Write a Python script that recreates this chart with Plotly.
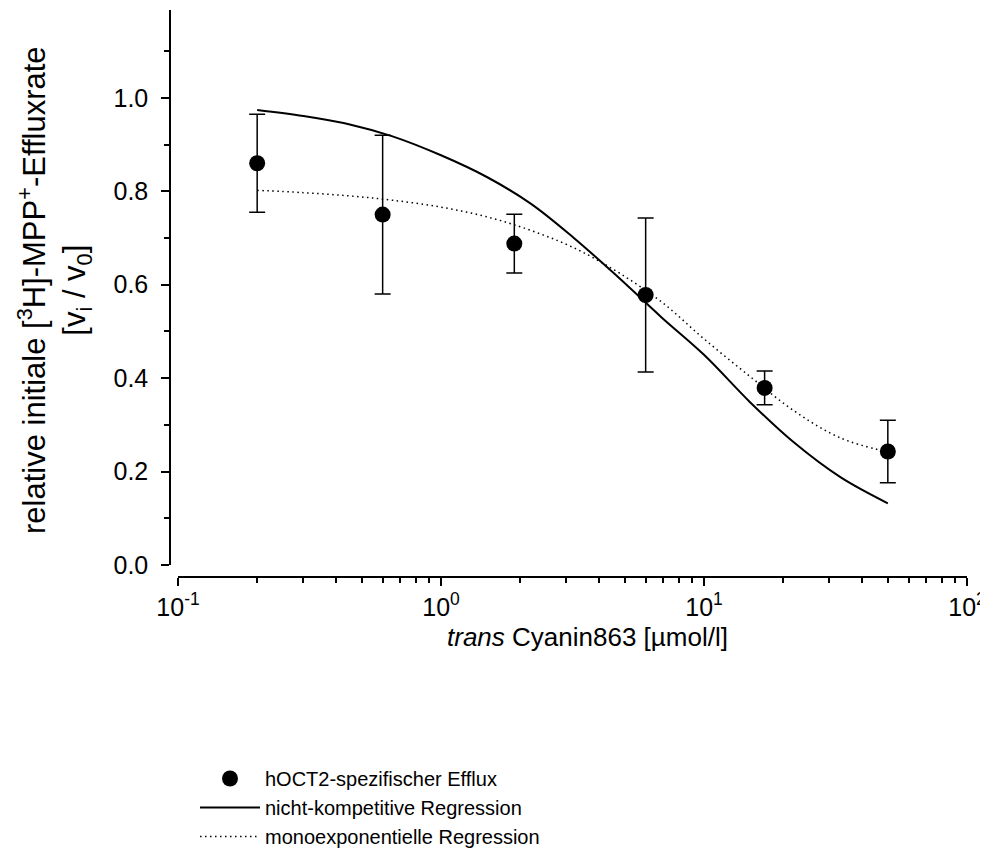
import plotly.graph_objects as go

# measured points
conc = [0.2, 0.6, 1.9, 6, 17, 50]
efflux = [0.86, 0.75, 0.688, 0.578, 0.379, 0.243]
efflux_err = [0.105, 0.17, 0.063, 0.165, 0.036, 0.067]

# regression curves
curve_x = [0.2, 0.3, 0.45, 0.65, 1.0, 1.5, 2.2, 3.2, 4.7, 6.9, 10, 15, 22, 33, 50]
nk_y = [0.974, 0.961, 0.943, 0.918, 0.877, 0.830, 0.773, 0.700, 0.617, 0.530, 0.450, 0.348, 0.262, 0.188, 0.132]
mono_y = [0.802, 0.797, 0.790, 0.781, 0.766, 0.745, 0.716, 0.679, 0.627, 0.563, 0.484, 0.403, 0.330, 0.272, 0.242]

major_x = [0.1, 1, 10, 100]
major_x_text = ['10<sup>-1</sup>', '10<sup>0</sup>', '10<sup>1</sup>', '10<sup>2</sup>']
minor_x = [m * d for d in (0.1, 1, 10) for m in range(2, 10)]

FONT = 'Liberation Sans, Arial, sans-serif'
# the page body adds an 8px margin, so the figure sits 8px in from the corner
OFF = 8
W, H = 988 - OFF, 859 - OFF


def fx(p):
    return (p - OFF) / W


def fy(p):
    return (H - (p - OFF)) / H


fig = go.Figure()

fig.add_trace(go.Scatter(
    x=conc, y=efflux, mode='markers', name='hOCT2-spezifischer Efflux',
    marker=dict(color='black', size=16),
    error_y=dict(type='data', array=efflux_err, color='black', thickness=1.5, width=8),
))
fig.add_trace(go.Scatter(
    x=curve_x, y=nk_y, mode='lines', name='nicht-kompetitive Regression',
    line=dict(color='black', width=2, shape='spline'),
))
fig.add_trace(go.Scatter(
    x=curve_x, y=mono_y, mode='lines', name='monoexponentielle Regression',
    line=dict(color='black', width=1.5, dash='1.5px,3.5px', shape='spline'),
))
# dummy trace so the minor-tick axis is drawn
fig.add_trace(go.Scatter(x=[], y=[], xaxis='x2', showlegend=False, hoverinfo='skip'))

x_dom = [fx(178), fx(967)]
y_dom = [fy(565), fy(10)]

fig.update_layout(
    width=W, height=H,
    margin=dict(l=0, r=0, t=0, b=0),
    paper_bgcolor='white', plot_bgcolor='white',
    font=dict(family=FONT, size=25, color='black'),
    showlegend=True,
    legend=dict(x=fx(195), y=fy(759), xanchor='left', yanchor='top',
                font=dict(size=20), itemwidth=60, tracegroupgap=0,
                bgcolor='rgba(0,0,0,0)'),
    xaxis=dict(
        type='log', range=[-1, 2], domain=x_dom, anchor='free', position=fy(577),
        tickvals=major_x, ticktext=major_x_text, ticks='outside', ticklen=8,
        tickwidth=1.5, tickcolor='black', showline=True, linecolor='black', linewidth=1.5,
        showgrid=False, zeroline=False, automargin=False,
    ),
    xaxis2=dict(
        type='log', range=[-1, 2], domain=x_dom, anchor='free', position=fy(577),
        overlaying='x', tickvals=minor_x, ticks='outside', ticklen=5, tickwidth=1.5,
        tickcolor='black', showticklabels=False, showline=False, showgrid=False,
        zeroline=False, automargin=False,
    ),
    yaxis=dict(
        range=[0, 1.188], domain=y_dom, anchor='free', position=fx(170),
        tick0=0, dtick=0.2, tickformat='.1f', ticks='outside', ticklen=8,
        tickwidth=1.5, tickcolor='black', ticklabelstandoff=8,
        minor=dict(tick0=0, dtick=0.1, ticks='outside', ticklen=5, tickwidth=1.5,
                   tickcolor='black'),
        showline=True, linecolor='black', linewidth=1.5,
        showgrid=False, zeroline=False, automargin=False,
    ),
    annotations=[
        dict(text='<i>trans</i> Cyanin863 [µmol/l]', xref='paper', yref='paper',
             x=fx(587), y=fy(637), xanchor='center', yanchor='middle',
             showarrow=False, font=dict(size=26)),
        dict(text='relative initiale [<sup>3</sup>H]-MPP<sup>+</sup>-Effluxrate<br>'
                  '[v<sub>i</sub> / v<sub>0</sub>]',
             xref='paper', yref='paper', x=fx(55), y=fy(290),
             xanchor='center', yanchor='middle', textangle=-90,
             showarrow=False, font=dict(size=31)),
    ],
)

fig.write_html('out.html')
